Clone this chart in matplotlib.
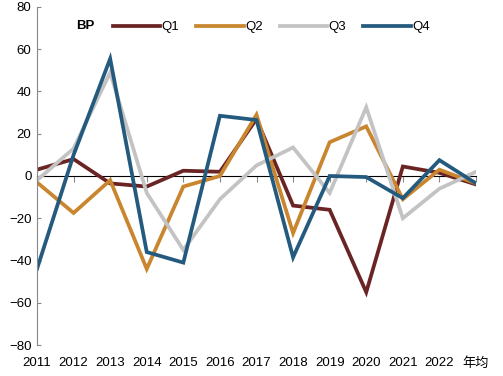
import matplotlib
matplotlib.use('Agg')
import matplotlib.pyplot as plt

plt.rcParams['font.family'] = ['Liberation Sans', 'Noto Sans CJK SC', 'DejaVu Sans']
plt.rcParams['axes.unicode_minus'] = True

categories = ['2011', '2012', '2013', '2014', '2015', '2016', '2017',
              '2018', '2019', '2020', '2021', '2022', '年均']
q1 = [3, 8, -3.5, -5, 2.5, 2, 27, -14, -16, -55, 4.5, 1.5, -4]
q2 = [-3, -17.5, -2, -44, -5, 0, 29, -27, 16, 23.5, -11, 3, -3.5]
q3 = [-2, 13, 49, -8, -35, -11, 5, 13.5, -8, 32.5, -20, -6, 2]
q4 = [-44, 10, 55.5, -36, -41, 28.5, 26.5, -38.5, 0, -0.5, -10.5, 7.5, -3.5]

series = [('Q1', q1, '#6b2424'), ('Q2', q2, '#c9862f'),
          ('Q3', q3, '#c3c3c3'), ('Q4', q4, '#245a7e')]

fig = plt.figure(figsize=(5.03, 3.76), dpi=100)
ax = fig.add_axes([37/503, 1 - 345/376, 439/503, 338/376])

x = list(range(len(categories)))
for name, vals, col in series:
    ax.plot(x, vals, color=col, lw=2.7, label=name, solid_joinstyle='miter')

ax.set_xlim(0, len(categories) - 1)
ax.set_ylim(-80, 80)
ax.set_yticks(range(-80, 81, 20))
ax.set_xticks(x)
ax.set_xticklabels(categories)
ax.tick_params(axis='x', length=0, pad=9, labelsize=9.5)
ax.tick_params(axis='y', direction='in', length=3, color='#888888', labelsize=9.5, pad=4)

for s in ['top', 'right', 'bottom']:
    ax.spines[s].set_visible(False)
ax.spines['left'].set_color('#888888')

# zero line with its own tick marks, no labels
zero = ax.secondary_xaxis(0.5)
zero.set_xticks(x, labels=[''] * len(x))
zero.tick_params(direction='in', length=4, color='#888888')
zero.spines['bottom'].set_color('#888888')

ax.text(0.09, 0.945, 'BP', transform=ax.transAxes, fontsize=9.5,
        fontweight='bold', ha='left', va='center')
ax.legend(loc='center left', bbox_to_anchor=(0.145, 0.94), ncol=4, frameon=False,
          handlelength=3.6, handletextpad=0.1, columnspacing=1.3, fontsize=9.5)

fig.savefig('out.png', dpi=100)
